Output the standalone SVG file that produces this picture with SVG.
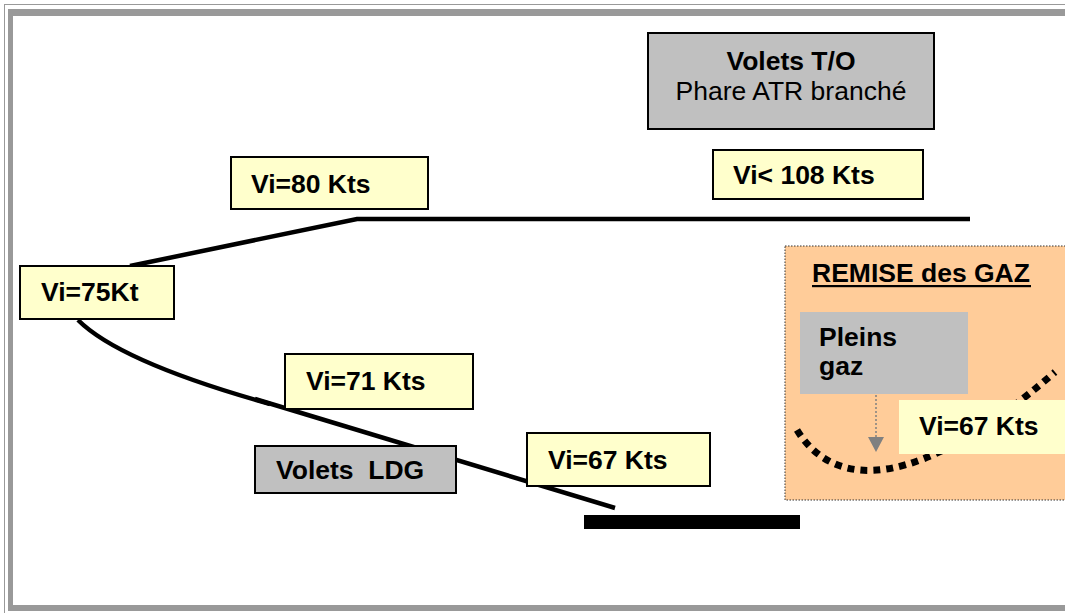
<svg xmlns="http://www.w3.org/2000/svg" width="1065" height="613" viewBox="0 0 1065 613">
<defs>
<style>
.t{font-family:"Liberation Sans",Arial,sans-serif;font-size:26.5px;fill:#000}
.b{font-weight:bold}
.yl{fill:#ffffcc;stroke:#000;stroke-width:2}
.gr{fill:#c0c0c0;stroke:#000;stroke-width:2}
.path{fill:none;stroke:#000;stroke-width:4.5}
</style>
<marker id="ah" viewBox="0 0 16 15" refX="8" refY="1" markerWidth="16" markerHeight="15" markerUnits="userSpaceOnUse">
<path d="M0,0 L16,0 L8,15 Z" fill="#808080"/>
</marker>
</defs>
<rect width="1065" height="613" fill="#fff"/>
<g id="frame" fill="#999">
<rect x="4" y="4" width="1061" height="1"/>
<rect x="4" y="4" width="1" height="609"/>
<rect x="8" y="9" width="1057" height="7"/>
<rect x="8" y="9" width="5" height="602"/>
<rect x="8" y="605" width="1057" height="6"/>
</g>
<g id="goaround-panel">
<rect x="785" y="246" width="290" height="254" fill="#ffcc99" stroke="#333" stroke-width="1" stroke-dasharray="1.5 1.5"/>
<text class="t b" x="812" y="282">REMISE des GAZ</text>
<rect x="812" y="285" width="219" height="2.2" fill="#000"/>
</g>
<g id="connectors">
<path class="path" d="M130,266 L357,219 L970,219"/>
<path class="path" d="M78,320 Q120,362 270,404"/>
<path class="path" d="M255,399 L615,508"/>
<path fill="none" stroke="#000" stroke-width="7" stroke-dasharray="7 6" d="M797,430 C835,492 920,490 1055,372"/>
<line x1="876" y1="395" x2="876" y2="438" stroke="#808080" stroke-width="1.5" stroke-dasharray="2 2" marker-end="url(#ah)"/>
</g>
<g id="ground"><rect x="584" y="515" width="216" height="14" fill="#000"/></g>
<g id="n-vi80"><rect class="yl" x="231" y="157" width="197" height="52"/><text class="t b" x="251" y="193">Vi=80 Kts</text></g>
<g id="n-vi75"><rect class="yl" x="20" y="266" width="154" height="53"/><text class="t b" x="41" y="301">Vi=75Kt</text></g>
<g id="n-vi71"><rect class="yl" x="285" y="354" width="188" height="55"/><text class="t b" x="306" y="390">Vi=71 Kts</text></g>
<g id="n-voletsldg"><rect class="gr" x="255" y="446" width="201" height="47"/><text class="t b" x="276" y="479" style="white-space:pre">Volets  LDG</text></g>
<g id="n-vi67"><rect class="yl" x="527" y="433" width="183" height="53"/><text class="t b" x="548" y="469">Vi=67 Kts</text></g>
<g id="n-voletsto"><rect class="gr" x="648" y="33" width="286" height="96"/><text class="t b" x="791" y="70" text-anchor="middle">Volets T/O</text><text class="t" x="791" y="100" text-anchor="middle">Phare ATR branché</text></g>
<g id="n-vi108"><rect class="yl" x="713" y="150" width="210" height="49"/><text class="t b" x="733" y="184">Vi&lt; 108 Kts</text></g>
<g id="n-pleinsgaz"><rect x="800" y="312" width="168" height="82" fill="#c0c0c0"/><text class="t b" x="819" y="346">Pleins</text><text class="t b" x="819" y="375">gaz</text></g>
<g id="n-vi67b"><rect x="899" y="400" width="170" height="54" fill="#ffffcc"/><text class="t b" x="919" y="435">Vi=67 Kts</text></g>
</svg>
